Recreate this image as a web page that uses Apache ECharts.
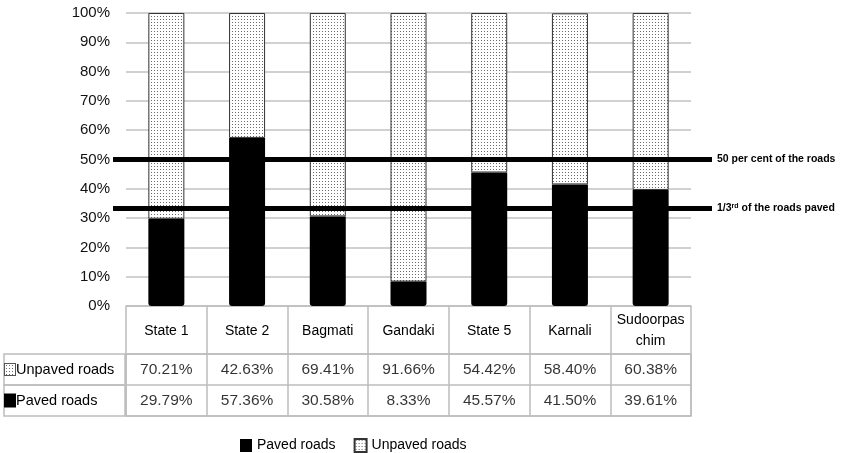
<!DOCTYPE html>
<html>
<head>
<meta charset="utf-8">
<title>Paved and unpaved roads by province</title>
<script src="https://cdn.jsdelivr.net/npm/echarts@6/dist/echarts.min.js"></script>
<style>
  html, body { margin: 0; padding: 0; background: #fff; }
  #chart { width: 842px; height: 453px; }
</style>
</head>
<body>
<div id="chart"></div>
<script>
// Provinces and road shares (per cent of total road length)
const provinces = ['State 1', 'State 2', 'Bagmati', 'Gandaki', 'State 5', 'Karnali', 'Sudoorpaschim'];
const pavedRoads = [29.79, 57.36, 30.58, 8.33, 45.57, 41.50, 39.61];
const unpavedRoads = [70.21, 42.63, 69.41, 91.66, 54.42, 58.40, 60.38];
const tableRows = ['Unpaved roads', 'Paved roads'];
const yTicks = { min: 0, max: 100, interval: 10 };
// Reference thresholds
const halfShare = 50;
const thirdShare = 100 / 3;

const FONT = 'Liberation Sans, Arial, sans-serif';

// Dotted fill used for the unpaved share
function dotPattern() {
  const c = document.createElement('canvas');
  c.width = 3; c.height = 3;
  const ctx = c.getContext('2d');
  ctx.fillStyle = '#ffffff';
  ctx.fillRect(0, 0, 3, 3);
  ctx.fillStyle = '#6a6a6a';
  ctx.fillRect(1, 1, 1, 1);
  return c;
}
// Small boxed swatch of the dotted fill, for the table's row key
function dotSwatch() {
  const c = document.createElement('canvas');
  c.width = 12; c.height = 13;
  const ctx = c.getContext('2d');
  ctx.fillStyle = '#ffffff';
  ctx.fillRect(0, 0, 12, 13);
  ctx.fillStyle = '#6a6a6a';
  for (let x = 2; x < 11; x += 3) {
    for (let y = 2; y < 12; y += 3) ctx.fillRect(x, y, 1, 1);
  }
  ctx.strokeStyle = '#555';
  ctx.lineWidth = 1;
  ctx.strokeRect(0.5, 0.5, 11, 12);
  return c;
}
const dotFill = { image: dotPattern(), repeat: 'repeat' };
const swatch = dotSwatch();

const gridColor = '#c2c2c2';
const tableColor = '#bdbdbd';
const textColor = '#000';

// Cell values for the data table below the bars
const tableCells = [];
provinces.forEach((p, i) => {
  tableCells.push([i, 0, unpavedRoads[i]]);
  tableCells.push([i, 1, pavedRoads[i]]);
});

const chart = echarts.init(document.getElementById('chart'));
chart.setOption({
  backgroundColor: '#ffffff',
  animation: false,
  textStyle: { fontFamily: FONT },
  grid: [
    { left: 126, right: 151, top: 13, bottom: 147 },
    { left: 126, right: 151, top: 354, bottom: 37, show: true, borderColor: tableColor, borderWidth: 1.5 },
    { left: 113, right: 130, top: 13, bottom: 147 }
  ],
  legend: {
    data: ['Paved roads', 'Unpaved roads'],
    left: 235,
    top: 433,
    itemWidth: 12,
    itemHeight: 13,
    itemGap: 18,
    icon: 'rect',
    textStyle: { fontFamily: FONT, fontSize: 14, color: textColor }
  },
  xAxis: [
    {
      type: 'category',
      gridIndex: 0,
      data: provinces,
      axisLine: { show: true, lineStyle: { color: tableColor, width: 1.5 } },
      axisTick: { show: true, length: 48, interval: 0, alignWithLabel: false, lineStyle: { color: tableColor, width: 1.5 } },
      axisLabel: {
        interval: 0, margin: 25, fontSize: 14, color: textColor, fontFamily: FONT,
        verticalAlign: 'middle', width: 70, overflow: 'breakAll', lineHeight: 21
      },
      splitLine: { show: false }
    },
    {
      type: 'category',
      gridIndex: 1,
      data: provinces,
      axisLine: { show: false },
      axisTick: { show: false },
      axisLabel: { show: false },
      splitLine: { show: true, interval: 0, lineStyle: { color: tableColor, width: 1.5 } }
    },
    { type: 'value', gridIndex: 2, min: 0, max: 1, show: false }
  ],
  yAxis: [
    {
      type: 'value',
      gridIndex: 0,
      min: yTicks.min, max: yTicks.max, interval: yTicks.interval,
      axisLine: { show: false },
      axisTick: { show: false },
      axisLabel: { formatter: '{value}%', fontSize: 15, color: '#111', margin: 16, fontFamily: FONT },
      splitLine: { lineStyle: { color: gridColor, width: 1.5 } }
    },
    {
      type: 'category',
      gridIndex: 1,
      data: tableRows,
      inverse: true,
      axisLine: { show: false },
      axisTick: { show: false },
      splitLine: { show: true, interval: 0, lineStyle: { color: tableColor, width: 1.5 } },
      axisLabel: {
        interval: 0, hideOverlap: false,
        margin: 122, align: 'left', verticalAlign: 'middle',
        width: 121, height: 31, lineHeight: 31, padding: 0,
        borderColor: tableColor, borderWidth: 1.5,
        fontSize: 14.5, color: textColor, fontFamily: FONT,
        formatter: v => (v === 'Unpaved roads' ? '{u|}' : '{p|}') + v,
        rich: {
          u: { width: 12, height: 13, backgroundColor: { image: swatch } },
          p: { width: 12, height: 14, backgroundColor: '#000' }
        }
      }
    },
    { type: 'value', gridIndex: 2, min: yTicks.min, max: yTicks.max, show: false }
  ],
  series: [
    {
      name: 'Paved roads',
      type: 'bar',
      xAxisIndex: 0, yAxisIndex: 0,
      stack: 'share',
      barWidth: 36,
      data: pavedRoads,
      itemStyle: { color: '#000', borderRadius: [0, 0, 3, 3] }
    },
    {
      name: 'Unpaved roads',
      type: 'bar',
      xAxisIndex: 0, yAxisIndex: 0,
      stack: 'share',
      barWidth: 36,
      data: unpavedRoads,
      itemStyle: { color: dotFill, borderColor: '#333', borderWidth: 1 }
    },
    {
      name: 'table',
      type: 'scatter',
      xAxisIndex: 1, yAxisIndex: 1,
      symbolSize: 1,
      itemStyle: { color: 'transparent' },
      silent: true,
      data: tableCells,
      label: {
        show: true, position: 'inside',
        fontSize: 15.5, color: textColor, fontFamily: FONT,
        formatter: p => p.value[2].toFixed(2) + '%'
      }
    },
    {
      name: 'thresholds',
      type: 'line',
      xAxisIndex: 2, yAxisIndex: 2,
      data: [],
      silent: true,
      markLine: {
        symbol: 'none',
        silent: true,
        lineStyle: { color: '#000', width: 5, type: 'solid' },
        label: {
          position: 'end', distance: 5,
          fontFamily: FONT, fontSize: 10.5, fontWeight: 'bold', color: '#000'
        },
        data: [
          { yAxis: halfShare, label: { formatter: '50 per cent of the roads' } },
          {
            yAxis: thirdShare,
            label: {
              formatter: '1/3{sup|rd} of the roads paved',
              rich: { sup: { fontSize: 7, fontWeight: 'bold', verticalAlign: 'top', padding: [0, 0, 5, 0] } }
            }
          }
        ]
      }
    }
  ]
});
</script>
</body>
</html>
